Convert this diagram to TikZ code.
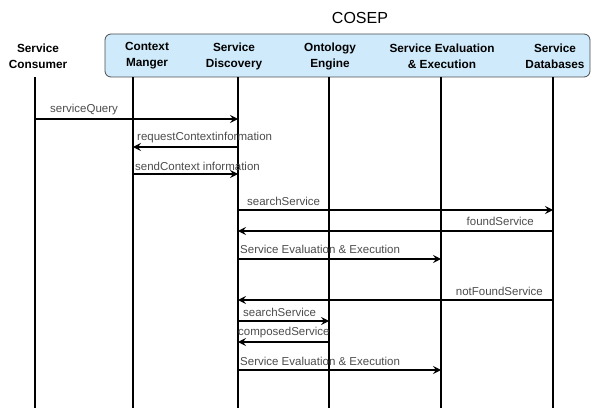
\documentclass[tikz,border=0pt]{standalone}
\usepackage{fontspec}
\setmainfont{Liberation Sans}
\usepackage{tikz}
\usetikzlibrary{arrows.meta,positioning}
\usepackage{xcolor}
\definecolor{hdrblue}{HTML}{CFEBFB}

\begin{document}
\begin{tikzpicture}[
  x=1pt, y=-1pt,
  >={Stealth[length=8pt,width=8pt,inset=3pt]},
  hdr/.style={font=\fontsize{11.8}{16}\selectfont\bfseries, align=center, inner sep=0pt},
  group/.style={draw=black!70, fill=hdrblue, rounded corners=6pt, line width=0.8pt},
  life/.style={line width=1.8pt},
  msg/.style={->, line width=1.3pt},
  lbl/.style={font=\fontsize{11.5}{13}\selectfont, text=black!70, inner sep=0pt},
]
\useasboundingbox (0,0) rectangle (592,409);

% COSEP frame
\draw[group] (105,34) rectangle (590,77);
\node[font=\fontsize{16}{18}\selectfont] (cosep) at (360,18) {COSEP};

% participants
\node[hdr] (cons) at (38,56) {Service\\Consumer};
\node[hdr] (ctx) at (147,56) {Context\\Manger};
\node[hdr] (disc) at (234,56) {Service\\Discovery};
\node[hdr] (onto) at (330,56) {Ontology\\Engine};
\node[hdr] (eval) at (442,56) {Service Evaluation\\\& Execution};
\node[hdr] (db) at (555,56) {Service\\Databases};

% lifelines
\coordinate (lcons) at (35,77);
\coordinate (lctx) at (133,77);
\coordinate (ldisc) at (238,77);
\coordinate (lonto) at (329,77);
\coordinate (leval) at (441,77);
\coordinate (ldb) at (553,77);
\coordinate (bot) at (0,408);
\draw[life] (lcons) -- (lcons |- bot);
\draw[life] (lctx) -- (lctx |- bot);
\draw[life] (ldisc) -- (ldisc |- bot);
\draw[life] (lonto) -- (lonto |- bot);
\draw[life] (leval) -- (leval |- bot);
\draw[life] (ldb) -- (ldb |- bot);

% message rows
\coordinate (r1) at (0,119);
\coordinate (r2) at (0,147);
\coordinate (r3) at (0,174);
\coordinate (r4) at (0,210);
\coordinate (r5) at (0,231);
\coordinate (r6) at (0,259);
\coordinate (r7) at (0,300);
\coordinate (r8) at (0,321);
\coordinate (r9) at (0,342);
\coordinate (r10) at (0,370);

% messages
\draw[msg] (lcons |- r1) -- (ldisc |- r1);
\draw[msg] (ldisc |- r2) -- (lctx |- r2);
\draw[msg] (lctx |- r3) -- (ldisc |- r3);
\draw[msg] (ldisc |- r4) -- (ldb |- r4);
\draw[msg] (ldb |- r5) -- (ldisc |- r5);
\draw[msg] (ldisc |- r6) -- (leval |- r6);
\draw[msg] (ldb |- r7) -- (ldisc |- r7);
\draw[msg] (ldisc |- r8) -- (lonto |- r8);
\draw[msg] (lonto |- r9) -- (ldisc |- r9);
\draw[msg] (ldisc |- r10) -- (leval |- r10);

% message labels
\node[lbl, anchor=west] (m1) at (50,110) {serviceQuery};
\node[lbl, anchor=west] (m2) at (137,138) {requestContextinformation};
\node[lbl, anchor=west] (m3) at (135,166) {sendContext information};
\node[lbl, anchor=west] (m4) at (247,201) {searchService};
\node[lbl, anchor=east] (m5) at (534,221) {foundService};
\node[lbl, anchor=west] (m6) at (240,249) {Service Evaluation \& Execution};
\node[lbl, anchor=east] (m7) at (543,291) {notFoundService};
\node[lbl, anchor=west] (m8) at (243,312) {searchService};
\node[lbl, anchor=west] (m9) at (238,333) {composedService};
\node[lbl, anchor=west] (m10) at (240,361) {Service Evaluation \& Execution};
\end{tikzpicture}
\end{document}
